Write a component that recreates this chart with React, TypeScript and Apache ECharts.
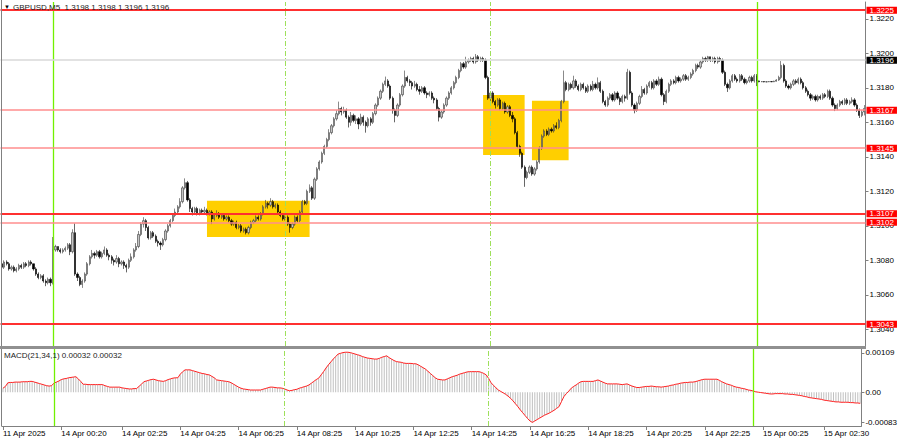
import React, { useEffect, useRef } from 'react';
import * as echarts from 'echarts';

const FONT = '"Liberation Sans", Arial, sans-serif';

// Prices in pips above 1.3000 (value 112 = 1.3112)
const opens = [
  78,76,79,78,75,76,74,75,77,76,
  78,77,79,78,75,72,70,71,68,67,
  69,67,86,88,86,85,86,87,89,85,
  96,72,70,66,68,72,78,82,84,83,
  85,82,84,86,83,82,80,79,81,78,
  79,77,76,80,82,86,88,95,101,103,
  99,93,96,94,91,90,89,92,97,100,
  103,106,108,111,114,122,125,115,110,108,
  110,107,109,108,109,107,108,104,106,107,
  105,106,104,105,103,101,102,99,100,97,
  98,96,99,102,103,105,104,107,111,113,
  112,114,111,112,108,106,104,105,101,99,
  101,105,103,108,114,113,120,122,116,127,
  133,137,142,146,150,154,158,162,165,168,
  166,167,163,160,164,161,162,159,163,160,
  158,162,160,165,170,174,178,182,184,181,
  174,167,164,170,176,181,186,184,183,181,
  182,179,178,180,177,176,177,174,173,168,
  163,166,170,174,177,180,183,186,190,194,
  192,195,196,197,195,198,196,197,196,186,
  174,177,172,170,173,168,171,166,169,164,
  162,154,146,142,134,128,131,134,130,133,
  137,145,152,155,153,156,155,158,157,161,
  172,183,179,182,180,184,181,179,182,180,
  178,181,179,182,180,183,178,172,170,174,
  176,173,177,174,172,175,174,189,177,170,
  167,171,175,179,177,181,183,180,184,182,
  185,176,172,178,182,184,183,186,184,185,
  187,185,186,188,190,193,192,195,197,196,
  198,196,197,195,197,196,189,182,180,184,
  187,185,184,187,185,183,184,186,184,187,
  184,183.5,183.6,183.4,183.5,183.6,183.5,183.8,184.5,186,
  193,184,181,180,182,184,183,185,183,180,
  178,176,174,175,173,175,174,176,175,178,
  174,170,168,170,172,171,173,171,172,173,
  170,167,164,166,
];

const highs = [
  79,80,80,79,77,77,76,78,78,79,
  79,80,80,78,76,73,72,72,69,70,
  70,93.5,89,88,87,87,88,90,90,98,
  101.4,73,71,69,73,79,83,86,85,86,
  86,85,88,87,84,83,81,83,82,80,
  80,78,81,84,87,90,97,102,105,104,
  100,97,97,95,92,91,93,98,101,104,
  107,110,112,116,123,127.5,126,116,111,111,
  111,110,110,111,110,109,109,107,109,108,
  107,107,106,106,104,103,103,101,101,99,
  99,100,103,104,106,106,108,112,115,114,
  116,115,113,113,109,107,106,106,102,102,
  106,106,109,115,115,121,124,123,128,134,
  138,143,147,151,156,159,163,167,172,169,
  169,168,164,166,165,164,163,165,164,161,
  163,163,166,171,175,179,183,186.5,185,182,
  175,168,171,177,182,190,187,185,184,184,
  183,181,181,181,178,178,178,175,174,169,
  167,171,175,178,181,184,187,191,195,195,
  198,197,198,198,199.6,199,198,198,197,187,
  178,178,173,174,174,172,172,170,170,166,
  163,155,147,143,135,132,135,135,134,138,
  146,153,156,156,157,157,159,160,162,173,
  190,184,183,183,187,185,182,183,183,181,
  182,182,184,183,186,184,179,173,175,177,
  177,178,178,175,176,176,191,190,178,171,
  172,176,181,180,182,184,184,185,185,186.5,
  186,177,179,183,185,185,187,187,186,188,
  188,187,189,191,194,194,196,198,198,198.5,
  198,198,198,198,198,197,190,183,185,188,
  188,186,188,188,186,185,187,187,188,188,
  184.2,183.9,183.8,183.8,183.9,183.8,184.1,185,187,195.5,
  194,185,182,183,185,185,186,186,184,181,
  179,177,176,176,176,176,177,177,179,179,
  175,171,171,173,173,174,174,173,174.5,174,
  171,168,167,170,
];

const lows = [
  70,75,77,74,74,73,73,74,75,75,
  76,76,77,74,71,69,69,67,65,66,
  65,66,85,85,84,84,85,86,83,84,
  71,68,65,64,67,71,77,81,81,82,
  81,81,83,82,80,78,77,78,76,77,
  75,73,75,79,81,85,87,94,99,97,
  92,92,93,90,88,86,88,91,96,99,
  102,105,107,110,113,121,114,108,106,107,
  106,106,107,107,106,106,101,103,105,104,
  104,103,103,102,100,100,98,98,96,96,
  95,95,98,101,102,103,103,106,110,110,
  111,110,110,107,105,103,103,100,96,98,
  100,102,102,107,112,112,119,115,115,126,
  132,136,141,145,149,153,157,161,164,164,
  165,162,157,158,160,159,156,158,158,154,
  157,158,159,164,169,173,177,181,180,173,
  165,160,163,169,175,180,183,181,179,180,
  178,176,177,176,174,175,173,171,167,160.5,
  162,165,169,173,176,179,182,185,189,191,
  191,194,195,194,194,195,195,195,185,173,
  172,171,168,169,167,167,165,165,163,160,
  153,145,140,133,122.6,127,130,129,129,132,
  136,144,151,152,152,154,154,156,156,160,
  171,178,178,179,179,180,178,178,179,177,
  177,178,178,179,179,177,171,169,169,173,
  172,172,173,170,171,172,173,176,169,165.2,
  166,170,174,176,176,180,179,179,181,181,
  175,170,171,177,181,182,182,183,183,184,
  184,184,185,187,189,191,191,194,195,195,
  195,195,194,194,195,188,181,177.6,179,183,
  184,183,183,184,182,182,183,183,183,181,
  183.2,183.3,183.2,183.2,183.3,183.3,183.3,183.6,184,185,
  183,180,179,179,181,182,182,182,179,177,
  175,172.5,173,172,172,173,173,174,174,173,
  169,166.5,167,169,170,170,170,170,171,169,
  166,162.5,163,164,
];

const closes = [
  76,79,78,75,76,74,75,77,76,78,
  77,79,78,75,72,70,71,68,67,69,
  67,86,88,86,85,86,87,89,85,96,
  72,70,66,68,72,78,82,84,83,85,
  82,84,86,83,82,80,79,81,78,79,
  77,76,80,82,86,88,95,101,103,99,
  93,96,94,91,90,89,92,97,100,103,
  106,108,111,114,122,125,115,110,108,110,
  107,109,108,109,107,108,104,106,107,105,
  106,104,105,103,101,102,99,100,97,98,
  96,99,102,103,105,104,107,111,113,112,
  114,111,112,108,106,104,105,101,99,101,
  105,103,108,114,113,120,122,116,127,133,
  137,142,146,150,154,158,162,165,168,166,
  167,163,160,164,161,162,159,163,160,158,
  162,160,165,170,174,178,182,184,181,174,
  167,164,170,176,181,186,184,183,181,182,
  179,178,180,177,176,177,174,173,168,163,
  166,170,174,177,180,183,186,190,194,192,
  195,196,197,195,198,196,197,196,186,174,
  177,172,170,173,168,171,166,169,164,162,
  154,146,142,134,128,131,134,130,133,137,
  145,152,155,153,156,155,158,157,161,172,
  183,179,182,180,184,181,179,182,180,178,
  181,179,182,180,183,178,172,170,174,176,
  173,177,174,172,175,174,189,177,170,167,
  171,175,179,177,181,183,180,184,182,185,
  176,172,178,182,184,183,186,184,185,187,
  185,186,188,190,193,192,195,197,196,198,
  196,197,195,197,196,189,182,180,184,187,
  185,184,187,185,183,184,186,184,187,184,
  183.5,183.6,183.4,183.5,183.6,183.5,183.8,184.5,186,193,
  184,181,180,182,184,183,185,183,180,178,
  176,174,175,173,175,174,176,175,178,174,
  170,168,170,172,171,173,171,172,173,170,
  167,164,166,168,
];

// MACD(21,34,1) main value in units of 0.00001
const macd = [
  11,16,26,27,27,28,28,28,29,29,
  29,30,30,28,26,24,22,20,18,17,
  18,25,28,31,35,37,38,40,41,42,
  43,37,30,22,22,21,21,21,21,21,
  21,21,18,16,14,14,14,14,14,12,
  11,10,9,9,10,10,16,22,29,31,
  33,35,36,34,32,31,30,32,35,37,
  39,40,40,50,57,62,62,62,60,58,
  56,54,52,51,49,48,44,40,34,33,
  32,31,30,29,26,22,18,14,11,9,
  8,7,6,6,6,6,6,8,10,12,
  14,14,13,12,12,11,9,6,4,5,
  7,8,11,13,15,17,20,25,30,35,
  39,48,57,67,76,84,92,99,106,108,
  110,111,111,110,108,106,104,102,99,97,
  95,94,93,92,92,94,97,99,101,96,
  92,88,85,84,83,81,80,80,80,79,
  79,76,72,68,64,58,52,46,40,36,
  35,34,34,37,40,43,45,47,50,52,
  54,56,57,57,57,57,57,55,52,48,
  38,26,19,12,6,2,-2,-6,-11,-17,
  -24,-32,-40,-49,-57,-65,-73,-80,-84,-80,
  -76,-72,-68,-64,-61,-58,-54,-50,-45,-40,
  -26,-12,-4,3,11,16,20,25,29,30,
  30,30,30,30,32,34,31,28,25,23,
  23,23,23,23,22,21,22,23,20,17,
  15,13,13,14,15,16,16,17,16,15,
  15,14,15,16,17,19,20,22,23,25,
  26,27,27,28,28,29,31,33,35,36,
  36,36,36,36,36,33,29,26,23,21,
  19,16,14,13,11,10,8,6,5,3,
  1,0,-1,-2,-3,-4,-5,-5,-4,-4,
  -4,-4,-5,-5,-6,-6,-7,-8,-9,-10,
  -12,-13,-15,-16,-17,-18,-19,-20,-22,-23,
  -24,-25,-26,-27,-27,-28,-28,-28,-28,-29,
  -29,-30,-30,-31,
];

const tickIndex = [0, 24, 49, 73, 97, 121, 145, 169, 193, 217, 241, 265, 289, 313, 338];
const tickLabels = [
  '11 Apr 2025', '14 Apr 00:20', '14 Apr 02:25', '14 Apr 04:25', '14 Apr 06:25',
  '14 Apr 08:25', '14 Apr 10:25', '14 Apr 12:25', '14 Apr 14:25', '14 Apr 16:25',
  '14 Apr 18:25', '14 Apr 20:25', '14 Apr 22:25', '15 Apr 00:25', '15 Apr 02:30',
];
const priceTicks = [1.304, 1.306, 1.308, 1.31, 1.312, 1.314, 1.316, 1.318, 1.32, 1.322];
const macdTicks = [0.00109, 0, -0.00083];

const strongLevels = [1.3225, 1.3107, 1.3043];
const weakLevels = [1.3167, 1.3145, 1.3102];
const bidPrice = 1.3196;
const solidVLines = [21, 309];
const dashedVLines = [116, 200];
// [startBar, endBar, topPrice, bottomPrice]
const boxes = [
  [84, 126, 1.311455, 1.30935],
  [197, 214, 1.31758, 1.3141],
  [217, 232, 1.31725, 1.3138],
];

const titleText = 'GBPUSD,M5  1.3198 1.3198 1.3196 1.3196';
const macdText = 'MACD(21,34,1) 0.00032 0.00032';

export default function App() {
  const ref = useRef<HTMLDivElement>(null);
  useEffect(() => {
    document.body.style.margin = '0';
    const chart = echarts.init(ref.current!, undefined, { renderer: 'svg' });
    const cats = closes.map((_, i) => String(i));
    const toPrice = (v: number) => +(1.3 + v / 10000).toFixed(5);
    const candles = closes.map((c, i) => [toPrice(opens[i]), toPrice(c), toPrice(lows[i]), toPrice(highs[i])]);
    const macdVals = macd.map((v) => v / 100000);
    const blanks = closes.map(() => null);
    const isTick = (i: number) => tickIndex.indexOf(i) >= 0;

    const solidStyle = { color: '#72f000', width: 1.3, type: 'solid', opacity: 1 };
    const dashedStyle = { color: '#9ee05a', width: 1, type: [5, 2, 1, 2], opacity: 1 };
    const vLines = [
      ...solidVLines.map((x) => ({ xAxis: x, lineStyle: solidStyle, label: { show: false } })),
      ...dashedVLines.map((x) => ({ xAxis: x, lineStyle: dashedStyle, label: { show: false } })),
    ];
    const levelLabel = (v: number, bg: string) => ({
      show: true, position: 'end', distance: 1, formatter: v.toFixed(4), color: '#fff',
      backgroundColor: bg, padding: [0, 3, 0, 3], fontSize: 8, lineHeight: 7, fontFamily: FONT,
    });
    const hLines = [
      ...weakLevels.map((v) => ({ yAxis: v, lineStyle: { color: '#ff8e8e', width: 1.5, type: 'solid' }, label: levelLabel(v, '#ff0000') })),
      { yAxis: bidPrice, lineStyle: { color: '#d9d9d9', width: 1.5, type: 'solid' }, label: levelLabel(bidPrice, '#000000') },
      ...strongLevels.map((v) => ({ yAxis: v, lineStyle: { color: '#ff3030', width: 2, type: 'solid' }, label: levelLabel(v, '#ff0000') })),
    ];

    const option: any = {
      animation: false,
      textStyle: { fontFamily: FONT },
      grid: [
        { left: 0.5, width: 865, top: 2, height: 344 },
        { left: 0.5, width: 865, top: 349, height: 77 },
      ],
      xAxis: [
        {
          type: 'category', gridIndex: 0, data: cats, boundaryGap: true, show: false,
          axisLine: { onZero: false },
        },
        {
          type: 'category', gridIndex: 1, data: cats, boundaryGap: true,
          axisLine: { show: true, onZero: false, lineStyle: { color: '#808080' } },
          axisTick: { show: true, alignWithLabel: true, length: 4, interval: (i: number) => isTick(i), lineStyle: { color: '#808080' } },
          axisLabel: {
            show: true, interval: (i: number) => isTick(i), align: 'left', margin: 3,
            fontSize: 8, color: '#000', fontFamily: FONT,
            formatter: (_v: string, i: number) => tickLabels[tickIndex.indexOf(i)] ?? '',
          },
          splitLine: { show: false },
        },
      ],
      yAxis: [
        {
          type: 'value', gridIndex: 0, position: 'right', min: 1.303032, max: 1.322974,
          axisLine: { show: true, lineStyle: { color: '#808080' } },
          axisTick: { show: true, length: 3, customValues: priceTicks, lineStyle: { color: '#808080' } },
          axisLabel: { customValues: priceTicks, formatter: (v: number) => v.toFixed(4), fontSize: 8, color: '#000', margin: 4, fontFamily: FONT },
          splitLine: { show: false },
        },
        {
          type: 'value', gridIndex: 1, position: 'right', min: -0.00094, max: 0.0012,
          axisLine: { show: true, lineStyle: { color: '#808080' } },
          axisTick: { show: true, length: 3, customValues: macdTicks, lineStyle: { color: '#808080' } },
          axisLabel: {
            customValues: macdTicks, formatter: (v: number) => (v === 0 ? '0.00' : v.toFixed(5)),
            fontSize: 8, color: '#000', margin: 4, fontFamily: FONT,
          },
          splitLine: { show: false },
        },
      ],
      series: [
        {
          type: 'candlestick', xAxisIndex: 0, yAxisIndex: 0, data: candles, barWidth: 1.7, z: 2,
          itemStyle: { color: '#c4c4c4', color0: '#000000', borderColor: '#3a3a3a', borderColor0: '#000000', borderWidth: 0.6 },
          markArea: {
            silent: true,
            itemStyle: { color: '#ffcf00', opacity: 1 },
            data: boxes.map((b) => [{ xAxis: b[0], yAxis: b[2] }, { xAxis: b[1], yAxis: b[3] }]),
          },
        },
        {
          type: 'line', xAxisIndex: 0, yAxisIndex: 0, data: blanks, symbol: 'none', z: 3,
          itemStyle: { color: '#72f000' },
          markLine: {
            silent: true, symbol: ['none', 'none'], animation: false, precision: 6,
            label: { show: false },
            data: [...vLines, ...hLines],
          },
        },
        {
          type: 'bar', xAxisIndex: 1, yAxisIndex: 1, data: macdVals, barWidth: 1,
          itemStyle: { color: '#c0c0c0' },
          markLine: {
            silent: true, symbol: ['none', 'none'], animation: false, precision: 6,
            label: { show: false },
            data: vLines,
          },
        },
        {
          type: 'line', xAxisIndex: 1, yAxisIndex: 1, data: macdVals, symbol: 'none',
          lineStyle: { color: '#ff2020', width: 1 },
        },
      ],
      graphic: [
        { type: 'line', shape: { x1: 1.5, y1: 0, x2: 1.5, y2: 426 }, style: { stroke: '#808080', lineWidth: 1 }, z: 10 },
        { type: 'rect', shape: { x: 0, y: 346, width: 866, height: 3 }, style: { fill: '#909090' }, z: 10 },
        { type: 'text', x: 4, y: 7, style: { text: '▼', fontSize: 6, fill: '#000', verticalAlign: 'middle', fontFamily: FONT }, z: 10 },
        { type: 'text', x: 13, y: 7, style: { text: titleText, fontSize: 8, fill: '#222', verticalAlign: 'middle', fontFamily: FONT }, z: 10 },
        { type: 'text', x: 4, y: 355, style: { text: macdText, fontSize: 8, fill: '#222', verticalAlign: 'middle', fontFamily: FONT }, z: 10 },
      ],
    };
    chart.setOption(option);
    return () => chart.dispose();
  }, []);
  return <div ref={ref} style={{ width: 900, height: 441 }} />;
}
